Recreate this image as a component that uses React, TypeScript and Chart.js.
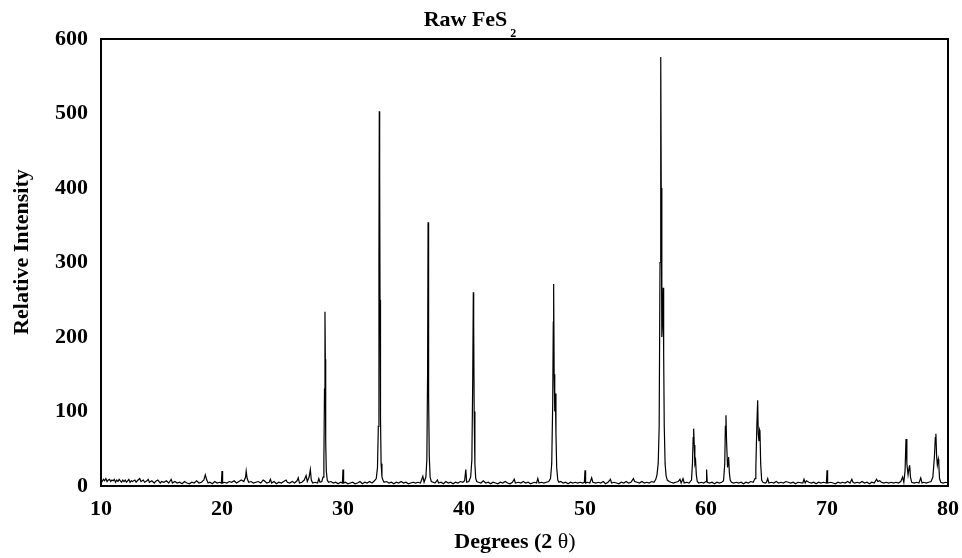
import React, { useEffect, useRef } from "react";
import { Chart, registerables } from "chart.js";

Chart.register(...registerables);

// [2θ (degrees), relative intensity]
const scan10to20: [number, number][] = [
  [10.0, 8], [10.1, 6], [10.2, 9], [10.3, 7], [10.4, 10], [10.5, 6], [10.6, 8], [10.7, 9], [10.8, 6], [10.9, 8],
  [11.0, 7], [11.1, 9], [11.2, 5], [11.3, 8], [11.4, 6], [11.5, 9], [11.6, 7], [11.7, 5], [11.8, 8], [11.9, 6],
  [12.0, 8], [12.1, 5], [12.2, 7], [12.3, 9], [12.4, 5], [12.5, 7], [12.6, 6], [12.8, 8], [12.9, 5], [13.0, 7],
  [13.2, 10], [13.3, 6], [13.5, 8], [13.6, 5], [13.8, 7], [13.9, 9], [14.0, 5], [14.2, 7], [14.4, 4], [14.5, 6],
  [14.7, 8], [14.9, 4], [15.0, 6], [15.2, 5], [15.4, 7], [15.6, 4], [15.8, 9], [15.9, 4], [16.1, 6], [16.3, 4],
  [16.5, 5], [16.7, 3], [16.9, 6], [17.1, 4], [17.3, 3], [17.5, 5], [17.7, 4], [17.9, 7], [18.1, 4], [18.3, 5],
  [18.5, 8], [18.62, 15], [18.72, 9], [18.85, 4], [19.0, 5], [19.2, 3], [19.4, 6], [19.6, 4], [19.8, 5], [19.95, 4],
];
const scan20to28: [number, number][] = [
  [20.0, 20], [20.05, 4], [20.2, 5], [20.4, 4], [20.6, 6], [20.8, 5], [21.0, 7], [21.2, 4], [21.4, 6], [21.6, 8],
  [21.8, 6], [21.95, 12], [22.0, 20], [22.08, 10], [22.2, 5], [22.4, 6], [22.6, 4], [22.8, 5], [23.0, 6], [23.2, 4],
  [23.4, 8], [23.5, 7], [23.7, 4], [23.9, 5], [24.0, 9], [24.1, 4], [24.3, 6], [24.5, 3], [24.7, 5], [24.9, 4],
  [25.1, 6], [25.3, 8], [25.4, 5], [25.6, 4], [25.8, 6], [26.0, 4], [26.2, 7], [26.3, 11], [26.4, 4], [26.6, 5],
  [26.8, 8], [26.95, 14], [27.05, 6], [27.2, 12], [27.3, 22], [27.38, 8], [27.5, 4], [27.7, 5], [27.9, 4], [28.0, 10],
  [28.1, 5],
];
const scan28to41: [number, number][] = [
  [28.25, 6], [28.35, 12], [28.42, 35], [28.47, 130], [28.51, 234], [28.54, 170], [28.57, 60], [28.62, 20], [28.7, 8], [28.8, 5],
  [29.0, 6], [29.2, 4], [29.4, 5], [29.6, 3], [29.8, 5], [29.95, 4], [30.0, 22], [30.05, 4], [30.2, 5], [30.4, 3],
  [30.6, 4], [30.8, 5], [31.0, 3], [31.2, 4], [31.4, 6], [31.6, 3], [31.8, 5], [32.0, 4], [32.2, 6], [32.4, 4],
  [32.6, 7], [32.75, 10], [32.85, 25], [32.92, 80], [32.97, 300], [33.0, 503], [33.03, 420], [33.06, 250], [33.1, 90], [33.15, 30],
  [33.22, 12], [33.3, 8], [33.4, 5], [33.6, 6], [33.8, 4], [34.0, 5], [34.2, 3], [34.4, 5], [34.6, 4], [34.8, 6],
  [35.0, 4], [35.2, 5], [35.4, 3], [35.6, 4], [35.8, 5], [36.0, 4], [36.2, 5], [36.4, 4], [36.6, 13], [36.7, 5],
  [36.85, 12], [36.93, 35], [36.99, 150], [37.03, 354], [37.06, 290], [37.09, 120], [37.13, 40], [37.2, 12], [37.3, 6], [37.45, 5],
  [37.6, 4], [37.8, 8], [37.9, 4], [38.1, 5], [38.3, 3], [38.5, 6], [38.7, 4], [38.9, 5], [39.1, 3], [39.3, 5],
  [39.5, 4], [39.7, 6], [39.9, 5], [40.05, 7], [40.15, 22], [40.22, 5], [40.4, 6], [40.55, 12], [40.65, 35], [40.72, 140],
  [40.77, 260], [40.8, 220], [40.84, 100], [40.9, 30], [40.97, 10], [41.05, 6],
];
const scan41to56: [number, number][] = [
  [41.2, 5], [41.4, 4], [41.6, 7], [41.8, 4], [42.0, 5], [42.2, 3], [42.4, 5], [42.6, 4], [42.8, 3], [43.0, 5],
  [43.2, 4], [43.4, 6], [43.6, 4], [43.8, 3], [44.0, 5], [44.15, 9], [44.25, 4], [44.5, 5], [44.7, 4], [44.9, 6],
  [45.1, 4], [45.3, 5], [45.5, 3], [45.8, 5], [46.0, 4], [46.1, 10], [46.2, 4], [46.4, 5], [46.6, 4], [46.8, 5],
  [47.0, 6], [47.15, 10], [47.25, 30], [47.33, 110], [47.38, 220], [47.41, 271], [47.45, 150], [47.5, 100], [47.55, 124], [47.6, 70],
  [47.66, 25], [47.75, 8], [47.85, 5], [48.0, 6], [48.2, 4], [48.4, 5], [48.6, 3], [48.8, 5], [49.0, 4], [49.2, 5],
  [49.4, 4], [49.6, 5], [49.8, 4], [49.95, 5], [50.0, 21], [50.05, 4], [50.2, 5], [50.4, 4], [50.55, 11], [50.65, 5],
  [50.9, 4], [51.1, 5], [51.3, 4], [51.5, 6], [51.7, 3], [51.9, 5], [52.1, 9], [52.2, 4], [52.4, 5], [52.6, 4],
  [52.8, 3], [53.0, 5], [53.2, 4], [53.4, 6], [53.6, 4], [53.8, 5], [54.0, 10], [54.1, 6], [54.3, 5], [54.5, 4],
  [54.7, 6], [54.9, 4], [55.1, 5], [55.3, 4], [55.5, 6], [55.7, 5], [55.85, 9], [55.95, 15],
];
const scan56to65: [number, number][] = [
  [56.05, 30], [56.13, 80], [56.2, 300], [56.26, 576], [56.3, 400], [56.35, 200], [56.4, 220], [56.46, 266], [56.5, 180], [56.55, 80],
  [56.62, 30], [56.7, 14], [56.8, 8], [56.95, 6], [57.1, 5], [57.3, 4], [57.5, 5], [57.7, 6], [57.85, 9], [57.95, 4],
  [58.1, 10], [58.2, 4], [58.4, 5], [58.6, 4], [58.8, 8], [58.88, 30], [58.94, 65], [58.98, 77], [59.03, 55], [59.08, 30],
  [59.14, 34], [59.2, 15], [59.28, 6], [59.4, 4], [59.6, 5], [59.8, 4], [60.0, 6], [60.05, 22], [60.1, 5], [60.3, 4],
  [60.5, 5], [60.7, 3], [60.9, 5], [61.1, 4], [61.3, 5], [61.45, 7], [61.55, 30], [61.6, 80], [61.65, 95], [61.7, 60],
  [61.78, 25], [61.84, 35], [61.87, 39], [61.93, 18], [62.0, 8], [62.1, 5], [62.3, 4], [62.5, 5], [62.7, 4], [62.9, 5],
  [63.1, 3], [63.3, 5], [63.5, 4], [63.7, 6], [63.9, 5], [64.05, 10], [64.12, 25], [64.2, 80], [64.27, 115], [64.32, 70],
  [64.38, 60], [64.43, 75], [64.46, 73], [64.52, 30], [64.6, 8], [64.7, 5], [64.9, 4],
];
const scan65to80: [number, number][] = [
  [65.0, 5], [65.1, 10], [65.2, 4], [65.4, 5], [65.6, 4], [65.8, 6], [66.0, 4], [66.2, 5], [66.4, 4], [66.6, 6],
  [66.8, 5], [67.0, 4], [67.2, 5], [67.4, 3], [67.6, 5], [68.0, 4], [68.1, 9], [68.2, 4], [68.3, 7], [68.5, 5],
  [68.7, 4], [68.9, 5], [69.1, 3], [69.3, 5], [69.5, 4], [69.7, 5], [69.95, 4], [70.0, 21], [70.05, 4], [70.3, 5],
  [70.5, 4], [70.7, 3], [70.9, 5], [71.1, 4], [71.3, 5], [71.5, 4], [71.7, 6], [71.9, 4], [72.05, 9], [72.15, 5],
  [72.3, 4], [72.5, 5], [72.7, 4], [72.9, 6], [73.1, 4], [73.3, 5], [73.5, 3], [73.7, 5], [73.9, 4], [74.1, 9],
  [74.2, 6], [74.35, 7], [74.5, 5], [74.7, 4], [74.9, 5], [75.1, 4], [75.3, 5], [75.5, 4], [75.7, 5], [75.9, 4],
  [76.1, 6], [76.25, 12], [76.35, 5], [76.45, 20], [76.53, 63], [76.6, 30], [76.7, 15], [76.8, 26], [76.83, 28], [76.9, 12],
  [77.0, 5], [77.2, 4], [77.4, 5], [77.6, 4], [77.75, 11], [77.85, 4], [78.0, 5], [78.2, 4], [78.4, 5], [78.6, 6],
  [78.75, 12], [78.88, 40], [78.95, 65], [79.0, 70], [79.06, 40], [79.12, 28], [79.2, 36], [79.24, 30], [79.3, 10], [79.4, 5],
  [79.6, 4], [79.8, 5], [80.0, 4],
];

const xTicks = [10, 20, 30, 40, 50, 60, 70, 80];
const yTicks = [0, 100, 200, 300, 400, 500, 600];

const chartTitle = "Raw FeS";
const chartTitleSub = "2";
const xTitleBold = "Degrees (2 ";
const xTitleRest = "\u03b8)";
const yTitle = "Relative Intensity";

const FONT = "'Liberation Serif', 'Times New Roman', serif";

const framePlugin = {
  id: "framePlugin",
  afterDraw(chart: any) {
    const { ctx, chartArea } = chart;
    const { left, top, right, bottom } = chartArea;
    ctx.save();
    ctx.strokeStyle = "#000";
    ctx.lineWidth = 2;
    ctx.strokeRect(left, top, right - left, bottom - top);

    ctx.fillStyle = "#000";
    ctx.textBaseline = "alphabetic";
    ctx.textAlign = "left";
    // main title with subscript
    ctx.font = `bold 22px ${FONT}`;
    const tw = ctx.measureText(chartTitle).width;
    ctx.font = `bold 12px ${FONT}`;
    const sw = ctx.measureText(chartTitleSub).width;
    const tx = 470 - (tw + 3 + sw) / 2;
    ctx.font = `bold 22px ${FONT}`;
    ctx.fillText(chartTitle, tx, 26);
    ctx.font = `bold 12px ${FONT}`;
    ctx.fillText(chartTitleSub, tx + tw + 3, 37);

    // x title
    ctx.font = `bold 22px ${FONT}`;
    const w1 = ctx.measureText(xTitleBold).width;
    ctx.font = `22px ${FONT}`;
    const w2 = ctx.measureText(xTitleRest).width;
    const xx = 515 - (w1 + w2) / 2;
    ctx.font = `bold 22px ${FONT}`;
    ctx.fillText(xTitleBold, xx, 548);
    ctx.font = `22px ${FONT}`;
    ctx.fillText(xTitleRest, xx + w1, 548);

    // y title
    ctx.translate(28, 252);
    ctx.rotate(-Math.PI / 2);
    ctx.textAlign = "center";
    ctx.font = `bold 22px ${FONT}`;
    ctx.fillText(yTitle, 0, 0);
    ctx.restore();
  },
};

export default function App() {
  const canvasRef = useRef<HTMLCanvasElement | null>(null);

  useEffect(() => {
    if (!canvasRef.current) return;
    const points = [...scan10to20, ...scan20to28, ...scan28to41, ...scan41to56, ...scan56to65, ...scan65to80].map(
      ([x, y]) => ({ x, y })
    );
    const chart = new Chart(canvasRef.current, {
      type: "line",
      data: {
        datasets: [
          {
            data: points,
            borderColor: "#000",
            borderWidth: 1.2,
            pointRadius: 0,
            tension: 0,
            fill: false,
          },
        ],
      },
      options: {
        responsive: false,
        animation: false,
        layout: { padding: { top: 39, right: 14, left: 0, bottom: 0 } },
        plugins: {
          legend: { display: false },
          title: { display: false },
          tooltip: { enabled: false },
        },
        scales: {
          x: {
            type: "linear",
            min: 10,
            max: 80,
            afterFit: (scale: any) => {
              scale.height = 72;
              scale.paddingLeft = 0;
              scale.paddingRight = 0;
            },
            afterBuildTicks: (scale: any) => {
              scale.ticks = xTicks.map((v) => ({ value: v }));
            },
            grid: { display: false, drawTicks: false },
            border: { display: false },
            ticks: {
              color: "#000",
              padding: 10,
              maxRotation: 0,
              autoSkip: false,
              font: { family: FONT, size: 22, weight: "bold" },
            },
          },
          y: {
            type: "linear",
            min: 0,
            max: 600,
            afterFit: (scale: any) => {
              scale.width = 101;
              scale.paddingTop = 0;
              scale.paddingBottom = 0;
            },
            afterBuildTicks: (scale: any) => {
              scale.ticks = yTicks.map((v) => ({ value: v }));
            },
            grid: { display: false, drawTicks: false },
            border: { display: false },
            ticks: {
              color: "#000",
              padding: 13,
              autoSkip: false,
              font: { family: FONT, size: 22, weight: "bold" },
            },
          },
        },
      },
      plugins: [framePlugin],
    });
    return () => chart.destroy();
  }, []);

  return (
    <div style={{ position: "fixed", left: 0, top: 0, width: 962, height: 558, background: "#fff" }}>
      <canvas ref={canvasRef} width={962} height={558} />
    </div>
  );
}
